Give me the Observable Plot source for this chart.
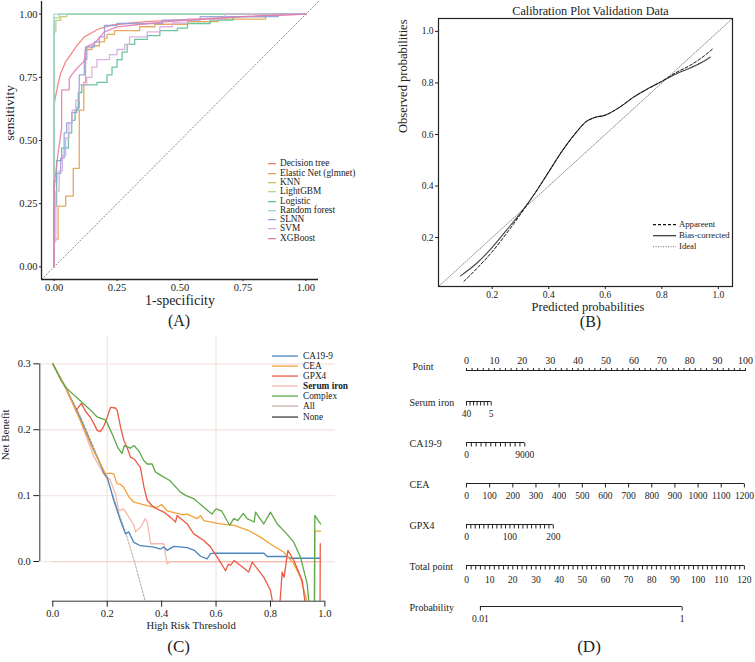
<!DOCTYPE html>
<html><head><meta charset="utf-8">
<script src="https://cdn.jsdelivr.net/npm/d3@7"></script>
<script src="https://cdn.jsdelivr.net/npm/@observablehq/plot@0.6"></script>
<style>
body{margin:0;background:#fff;}
#root{position:relative;width:755px;height:662px;overflow:hidden;background:#fff;}
#root svg, #root svg text{font-family:"Liberation Serif","Times New Roman",serif !important;}
.legend{position:absolute;font-family:"Liberation Serif","Times New Roman",serif;color:#222;}
.legend .item{display:flex;align-items:center;white-space:nowrap;}
</style></head>
<body><div id="root"></div>
<script>
// ================= DATA =================
// ---- (A) ROC curves: [1-specificity, sensitivity] ----
const rocModels = ["Decision tree","Elastic Net (glmnet)","KNN","LightGBM","Logistic","Random forest","SLNN","SVM","XGBoost"];
const rocTicks = [0, 0.25, 0.5, 0.75, 1];
const rocDecisionTree = [[0,0],[0,0.64],[0.005,0.67],[0.015,0.72],[0.026,0.765],[0.045,0.81],[0.066,0.84],[0.09,0.875],[0.12,0.91],[0.18,0.943],[0.23,0.957],[0.36,0.97],[0.56,0.98],[0.75,0.99],[1,1]];
const rocElasticNet = [[0,0],[0,0.11],[0.016,0.11],[0.016,0.24],[0.046,0.24],[0.046,0.28],[0.076,0.28],[0.076,0.39],[0.1,0.39],[0.1,0.62],[0.118,0.62],[0.118,0.73],[0.125,0.73],[0.125,0.86],[0.15,0.86],[0.15,0.875],[0.18,0.875],[0.18,0.89],[0.2,0.89],[0.2,0.905],[0.21,0.905],[0.21,0.92],[0.24,0.92],[0.24,0.935],[0.34,0.935],[0.34,0.95],[0.4,0.95],[0.4,0.96],[0.53,0.96],[0.53,0.97],[0.65,0.97],[0.65,0.98],[0.84,0.98],[0.84,1],[1,1]];
const rocKNN = [[0,0],[0,0.93],[0.007,0.93],[0.007,0.975],[0.026,0.975],[0.026,0.99],[0.05,0.99],[0.05,1],[1,1]];
const rocLightGBM = [[0,0],[0,0.985],[0.02,0.985],[0.02,1],[1,1]];
const rocLogistic = [[0,0],[0,0.24],[0.01,0.24],[0.01,0.42],[0.03,0.42],[0.03,0.47],[0.057,0.47],[0.057,0.53],[0.07,0.53],[0.07,0.58],[0.083,0.58],[0.083,0.62],[0.096,0.62],[0.096,0.69],[0.11,0.69],[0.11,0.72],[0.17,0.72],[0.17,0.73],[0.21,0.73],[0.21,0.76],[0.23,0.76],[0.23,0.79],[0.25,0.79],[0.25,0.82],[0.27,0.82],[0.27,0.85],[0.29,0.85],[0.29,0.88],[0.32,0.88],[0.32,0.9],[0.37,0.9],[0.37,0.915],[0.42,0.915],[0.42,0.935],[0.49,0.935],[0.49,0.945],[0.53,0.945],[0.53,0.963],[0.62,0.963],[0.62,0.976],[0.71,0.976],[0.71,0.99],[0.84,0.99],[0.84,1],[1,1]];
const rocRandomForest = [[0,0],[0,1],[1,1]];
const rocSLNN = [[0,0],[0,0.34],[0.01,0.34],[0.01,0.37],[0.026,0.37],[0.026,0.43],[0.04,0.43],[0.04,0.53],[0.05,0.53],[0.05,0.57],[0.07,0.57],[0.07,0.61],[0.09,0.61],[0.09,0.63],[0.1,0.63],[0.1,0.76],[0.12,0.76],[0.12,0.82],[0.13,0.82],[0.13,0.87],[0.16,0.87],[0.16,0.89],[0.18,0.89],[0.18,0.91],[0.2,0.91],[0.2,0.955],[0.25,0.955],[0.25,0.963],[0.43,0.963],[0.43,0.976],[0.58,0.976],[0.58,0.99],[0.89,0.99],[0.89,1],[1,1]];
const rocSVM = [[0,0],[0,0.1],[0.007,0.1],[0.007,0.3],[0.02,0.3],[0.02,0.38],[0.033,0.38],[0.033,0.44],[0.046,0.44],[0.046,0.51],[0.059,0.51],[0.059,0.57],[0.072,0.57],[0.072,0.62],[0.086,0.62],[0.086,0.66],[0.1,0.66],[0.1,0.72],[0.13,0.72],[0.13,0.75],[0.15,0.75],[0.15,0.79],[0.17,0.79],[0.17,0.82],[0.22,0.82],[0.22,0.84],[0.25,0.84],[0.25,0.86],[0.28,0.86],[0.28,0.88],[0.3,0.88],[0.3,0.91],[0.37,0.91],[0.37,0.93],[0.42,0.93],[0.42,0.95],[0.47,0.95],[0.47,0.965],[0.53,0.965],[0.53,0.98],[0.68,0.98],[0.68,1],[1,1]];
const rocXGBoost = [[0,0],[0,0.3],[0.005,0.36],[0.012,0.42],[0.02,0.48],[0.03,0.55],[0.03,0.7],[0.06,0.7],[0.06,0.745],[0.07,0.76],[0.09,0.785],[0.12,0.815],[0.125,0.87],[0.16,0.885],[0.2,0.93],[0.25,0.95],[0.35,0.96],[0.45,0.97],[0.6,0.98],[0.75,0.99],[1,1]];
const rocCurves = [rocDecisionTree, rocElasticNet, rocKNN, rocLightGBM, rocLogistic, rocRandomForest, rocSLNN, rocSVM, rocXGBoost];

// ---- (B) calibration: [predicted, observed] ----
const calTicks = [0.2, 0.4, 0.6, 0.8, 1.0];
const calApparent = [[0.1,0.03],[0.15,0.085],[0.2,0.145],[0.25,0.215],[0.3,0.29],[0.35,0.37],[0.4,0.455],[0.45,0.54],[0.5,0.612],[0.53,0.648],[0.56,0.665],[0.6,0.675],[0.65,0.705],[0.7,0.745],[0.75,0.777],[0.8,0.806],[0.85,0.84],[0.9,0.868],[0.95,0.905],[0.983,0.935]];
const calBiasCorrected = [[0.088,0.051],[0.15,0.105],[0.2,0.162],[0.25,0.228],[0.3,0.295],[0.35,0.37],[0.4,0.455],[0.45,0.54],[0.5,0.612],[0.53,0.648],[0.56,0.665],[0.6,0.675],[0.65,0.705],[0.7,0.745],[0.75,0.777],[0.8,0.806],[0.85,0.835],[0.9,0.858],[0.95,0.885],[0.971,0.9]];
const calIdeal = [0, 1.1];
const calLegend = ["Appareent", "Bias-corrected", "Ideal"];

// ---- (C) decision curves: [threshold, net benefit] ----
const dcaNames = ["CA19-9","CEA","GPX4","Serum iron","Complex","All","None"];
const dcaXTicks = [0, 0.2, 0.4, 0.6, 0.8, 1.0];
const dcaYTicks = [0, 0.1, 0.2, 0.3];
const dcaGridX = [0.2, 0.6];
const dcaCA199 = [[0,0.3],[0.05,0.262],[0.1,0.218],[0.15,0.17],[0.19,0.133],[0.2,0.128],[0.224,0.093],[0.249,0.062],[0.267,0.042],[0.279,0.045],[0.298,0.029],[0.322,0.024],[0.371,0.022],[0.396,0.019],[0.408,0.022],[0.42,0.017],[0.445,0.023],[0.494,0.021],[0.52,0.017],[0.543,0.008],[0.567,0.004],[0.58,0.012],[0.592,0.0126],[0.776,0.0126],[0.788,0.0076],[0.86,0.0076],[0.874,0.005],[0.984,0.005]];
const dcaCEA = [[0,0.3],[0.05,0.262],[0.1,0.215],[0.15,0.168],[0.194,0.133],[0.212,0.134],[0.224,0.133],[0.236,0.118],[0.249,0.117],[0.26,0.113],[0.28,0.098],[0.298,0.09],[0.347,0.085],[0.383,0.082],[0.4,0.0865],[0.42,0.077],[0.457,0.073],[0.476,0.071],[0.494,0.072],[0.53,0.065],[0.543,0.07],[0.555,0.062],[0.616,0.057],[0.666,0.055],[0.72,0.047],[0.763,0.037],[0.81,0.024],[0.85,0.014],[0.886,-0.0035],[0.91,-0.024],[0.93,-0.054],[0.94,-0.09],[0.962,-0.09],[0.963,0.046],[0.984,0.046]];
const dcaGPX4 = [[0.087,0.23],[0.105,0.24],[0.12,0.228],[0.138,0.219],[0.15,0.21],[0.163,0.199],[0.175,0.197],[0.187,0.205],[0.2,0.219],[0.212,0.234],[0.23,0.233],[0.237,0.229],[0.249,0.204],[0.261,0.184],[0.273,0.173],[0.286,0.158],[0.298,0.156],[0.322,0.143],[0.335,0.113],[0.347,0.093],[0.371,0.082],[0.408,0.075],[0.433,0.067],[0.451,0.06],[0.457,0.07],[0.494,0.057],[0.518,0.042],[0.555,0.032],[0.58,0.022],[0.604,0.0066],[0.616,-0.001],[0.635,-0.014],[0.645,-0.004],[0.653,-0.006],[0.666,0.0015],[0.69,-0.006],[0.72,-0.016],[0.733,-0.001],[0.776,-0.024],[0.8,-0.044],[0.82,-0.09],[0.83,-0.09],[0.843,-0.016],[0.85,-0.024],[0.864,0.017],[0.886,0.0015],[0.917,-0.029],[0.935,-0.09],[0.982,-0.09],[0.983,0.027]];
const dcaSerumIron = [[0,0.3],[0.05,0.26],[0.1,0.215],[0.15,0.16],[0.17,0.145],[0.194,0.128],[0.21,0.125],[0.23,0.103],[0.243,0.077],[0.26,0.08],[0.273,0.072],[0.298,0.055],[0.304,0.045],[0.322,0.052],[0.34,0.065],[0.347,0.06],[0.36,0.027],[0.383,0.027],[0.408,0.027],[0.42,-0.0035],[0.433,0],[0.984,0]];
const dcaComplex = [[0,0.3],[0.03,0.275],[0.053,0.262],[0.09,0.248],[0.133,0.232],[0.164,0.219],[0.194,0.215],[0.2,0.21],[0.22,0.192],[0.24,0.172],[0.254,0.164],[0.263,0.176],[0.285,0.172],[0.298,0.176],[0.316,0.168],[0.335,0.153],[0.347,0.148],[0.365,0.148],[0.377,0.136],[0.4,0.13],[0.43,0.123],[0.47,0.105],[0.49,0.1],[0.52,0.095],[0.54,0.0875],[0.57,0.077],[0.585,0.072],[0.6,0.08],[0.62,0.077],[0.65,0.055],[0.665,0.065],[0.68,0.062],[0.7,0.073],[0.714,0.065],[0.74,0.06],[0.745,0.075],[0.775,0.057],[0.8,0.075],[0.825,0.057],[0.86,0.042],[0.886,0.029],[0.91,0.007],[0.935,-0.034],[0.947,-0.09],[0.961,-0.09],[0.963,0.07],[0.984,0.057]];
const dcaAll = [[0,0.3],[0.1,0.222],[0.2,0.125],[0.27,0.041],[0.3,0],[0.335,-0.053],[0.345,-0.07]];
const dcaNone = [[0,0],[0.984,0]];
const dcaSeries = [dcaCA199, dcaCEA, dcaGPX4, dcaSerumIron, dcaComplex, dcaAll, dcaNone];

// ---- (D) nomogram ----
const pointLabels = [0,10,20,30,40,50,60,70,80,90,100];
const pointMinorTicks = d3.range(0, 101, 2);
const nomoNames = ["Serum iron","CA19-9","CEA","GPX4","Total point","Probability"];
const nomoFrom = [40, 0, 0, 0, 0, 0.01];
const nomoTo = [5, 9000, 1200, 200, 120, 1];
const nomoPointsFrom = [0, 0, 0, 0, 0, 4.98];
const nomoPointsTo = [8.85, 20.9, 99.6, 31.1, 99.6, 77.3];
const nomoTicks = [
  [40,35,30,25,20,15,10,5],
  d3.range(0, 9001, 750),
  [0,100,200,300,400,500,600,700,800,900,1000,1100,1200],
  d3.range(0, 201, 10),
  d3.range(0, 121, 2),
  [0.01, 1]
];
const nomoLabels = [
  [40,5],
  [0,9000],
  [0,100,200,300,400,500,600,700,800,900,1000,1100,1200],
  [0,100,200],
  [0,10,20,30,40,50,60,70,80,90,100,110,120],
  [0.01,1]
];

// ================= STYLE =================
const SERIF = "Liberation Serif, Times New Roman, serif";
const rocColors = ["#F27F76","#E3A04E","#C3C46C","#A5D78F","#5DBF92","#95D4D7","#8EA2DB","#D8AADF","#E47DB4"];
const dcaColors = ["#4A84BC","#F2A23C","#EB5A45","#F4B9AA","#5EA848","#C9AEA6","#3d3d3d"];
const INK = "#222";
const root = document.getElementById("root");

function place(svg, left, top) {
  svg.style.position = "absolute";
  svg.style.left = left + "px";
  svg.style.top = top + "px";
  root.appendChild(svg);
}
function makeLegend({labels, colors, dashes, left, top, rowH, lineW, gap, fontSize, bold}) {
  const div = document.createElement("div");
  div.className = "legend";
  Object.assign(div.style, {left: left + "px", top: top + "px", fontSize: fontSize + "px"});
  labels.forEach((lab, i) => {
    const row = document.createElement("div");
    row.className = "item";
    row.style.height = rowH + "px";
    const dash = dashes && dashes[i] ? `stroke-dasharray="${dashes[i]}"` : "";
    row.innerHTML = `<svg width="${lineW}" height="${rowH}" style="flex:none"><line x1="0" x2="${lineW}" y1="${rowH/2}" y2="${rowH/2}" stroke="${colors[i]}" stroke-width="1.3" ${dash}/></svg><span style="margin-left:${gap}px;line-height:${rowH}px;${bold && bold.includes(lab) ? "font-weight:bold;" : ""}">${lab}</span>`;
    div.appendChild(row);
  });
  root.appendChild(div);
}

// ================= (A) ROC =================
const rocRows = rocModels.flatMap((m, i) => rocCurves[i].map(([fpr, tpr]) => ({model: m, fpr, tpr})));
const rocDomain = [-0.05, 1.05];
const plotA = Plot.plot({
  width: 370, height: 330, marginLeft: 41, marginRight: 52, marginTop: 1, marginBottom: 51,
  style: {fontFamily: SERIF, fontSize: "10.5px", color: INK, background: "transparent", overflow: "visible"},
  x: {domain: rocDomain, ticks: rocTicks, tickFormat: d3.format(".2f"), tickSize: 2, tickPadding: 2, label: null},
  y: {domain: rocDomain, ticks: rocTicks, tickFormat: d3.format(".2f"), tickSize: 2, tickPadding: 2, label: null},
  color: {domain: rocModels, range: rocColors},
  marks: [
    Plot.line(rocDomain, {x: d => d, y: d => d, stroke: "#8a8a8a", strokeWidth: 1, strokeDasharray: "1.2,2.2"}),
    Plot.line(rocRows, {x: "fpr", y: "tpr", z: "model", stroke: "model", strokeWidth: 1.3, strokeOpacity: 0.9}),
    Plot.ruleX([rocDomain[0]], {stroke: INK, strokeWidth: 1.3}),
    Plot.ruleY([rocDomain[0]], {stroke: INK, strokeWidth: 1.3}),
    Plot.text(["sensitivity"], {frameAnchor: "left", rotate: -90, dx: -32, fontSize: 13.5}),
    Plot.text(["1-specificity"], {frameAnchor: "bottom", dy: 25, fontSize: 14}),
    Plot.text(["(A)"], {frameAnchor: "bottom", dy: 46, dx: -1, fontSize: 16})
  ]
});
place(plotA, 0, 0);
makeLegend({labels: rocModels, colors: rocColors, left: 268, top: 159.4, rowH: 9.3, lineW: 8, gap: 4, fontSize: 9.3});

// ================= (B) Calibration =================
const calDomain = [0.01, 1.05];
const calRows = [
  ...calApparent.map(([p, o]) => ({kind: "Apparent", p, o})),
  ...calBiasCorrected.map(([p, o]) => ({kind: "Bias", p, o}))
];
const plotB = Plot.plot({
  width: 385, height: 330, marginLeft: 68, marginRight: 23, marginTop: 18, marginBottom: 44,
  style: {fontFamily: SERIF, fontSize: "9.5px", color: INK, background: "transparent", overflow: "visible"},
  x: {domain: calDomain, ticks: calTicks, tickFormat: d3.format(".1f"), tickSize: 3, tickPadding: 2, label: null},
  y: {domain: calDomain, ticks: calTicks, tickFormat: d3.format(".1f"), tickSize: 3, tickPadding: 2, label: null},
  marks: [
    Plot.line(calIdeal, {x: d => d, y: d => d, stroke: "#7a7a7a", strokeWidth: 0.9, strokeDasharray: "1,1.5", clip: true}),
    Plot.line(calRows.filter(d => d.kind === "Bias"), {x: "p", y: "o", stroke: "#444", strokeWidth: 1.1, curve: "monotone-x"}),
    Plot.line(calRows.filter(d => d.kind === "Apparent"), {x: "p", y: "o", stroke: "#111", strokeWidth: 1, strokeDasharray: "3,2", curve: "monotone-x"}),
    Plot.frame({stroke: INK, strokeWidth: 1.2}),
    Plot.text(["Calibration Plot Validation Data"], {frameAnchor: "top", dy: -12, dx: 5, fontSize: 12.2}),
    Plot.text(["Observed probabilities"], {frameAnchor: "left", rotate: -90, dx: -36, dy: -19.5, fontSize: 12.5}),
    Plot.text(["Predicted probabilities"], {frameAnchor: "bottom", dy: 24, dx: 2.5, fontSize: 12.5}),
    Plot.text(["(B)"], {frameAnchor: "bottom", dy: 40, dx: 5, fontSize: 16})
  ]
});
place(plotB, 370, 0);
makeLegend({labels: calLegend, colors: ["#111", "#444", "#888"], dashes: ["3,2", null, "1,1.5"], left: 653, top: 218.6, rowH: 11.35, lineW: 23, gap: 3, fontSize: 8.7});

// ================= (C) Decision curves =================
const dcaRows = dcaNames.flatMap((n, i) => dcaSeries[i].map(([t, nb]) => ({model: n, t, nb})));
const dcaXDomain = [-0.0478, 1.039];
const dcaYDomain = [-0.0602, 0.343];
const curveOrder = ["Serum iron", "CA19-9", "CEA", "GPX4", "Complex"];
const plotC = Plot.plot({
  width: 370, height: 332, marginLeft: 39.3, marginRight: 35, marginTop: 5, marginBottom: 61.3,
  style: {fontFamily: SERIF, fontSize: "10.5px", color: INK, background: "transparent", overflow: "visible"},
  x: {domain: dcaXDomain, ticks: dcaXTicks, tickFormat: d3.format(".1f"), tickSize: 6, tickPadding: 2, label: null},
  y: {domain: dcaYDomain, ticks: dcaYTicks, tickFormat: d3.format(".1f"), tickSize: 6, tickPadding: 3, label: null},
  color: {domain: dcaNames, range: dcaColors},
  marks: [
    Plot.ruleY(dcaYTicks, {stroke: "#F4E6E3", strokeWidth: 1.3}),
    Plot.ruleX(dcaGridX, {stroke: "#F4E6E3", strokeWidth: 1.3}),
    Plot.line(dcaRows.filter(d => d.model === "None"), {x: "t", y: "nb", stroke: "#F6D3CB", strokeWidth: 1.2, clip: true}),
    Plot.line(dcaRows.filter(d => d.model === "All"), {x: "t", y: "nb", stroke: "#B9A29B", strokeWidth: 1, strokeDasharray: "2,1.6", clip: true}),
    ...curveOrder.map(name => Plot.line(dcaRows.filter(d => d.model === name), {x: "t", y: "nb", stroke: "model", strokeWidth: 1.3, clip: true})),
    Plot.ruleY([dcaYDomain[0]], {x1: dcaXTicks[0], x2: dcaXTicks[dcaXTicks.length - 1], stroke: "#333", strokeWidth: 1}),
    Plot.ruleX([dcaXDomain[0]], {y1: dcaYTicks[0], y2: dcaYTicks[dcaYTicks.length - 1], stroke: "#333", strokeWidth: 1}),
    Plot.text(["Net Benefit"], {frameAnchor: "left", rotate: -90, dx: -34, dy: -8, fontSize: 11}),
    Plot.text(["High Risk Threshold"], {frameAnchor: "bottom", dy: 27.6, dx: 3.5, fontSize: 10.7}),
    Plot.text(["(C)"], {frameAnchor: "bottom", dy: 51, dx: -9, fontSize: 17})
  ]
});
place(plotC, 0, 330);
makeLegend({labels: dcaNames, colors: dcaColors, left: 272, top: 351, rowH: 10.1, lineW: 26, gap: 5, fontSize: 9.3, bold: ["Serum iron"]});

// ================= (D) Nomogram =================
const nomoRows = nomoNames.map((name, i) => ({name, p0: nomoPointsFrom[i], p1: nomoPointsTo[i]}));
const toPoints = (i, v) => nomoPointsFrom[i] + (v - nomoFrom[i]) / (nomoTo[i] - nomoFrom[i]) * (nomoPointsTo[i] - nomoPointsFrom[i]);
const nomoTickRows = nomoNames.flatMap((name, i) => nomoTicks[i].map(v => ({name, p: toPoints(i, v)})));
const nomoLabelRows = nomoNames.flatMap((name, i) => nomoLabels[i].map(v => ({name, p: toPoints(i, v), label: String(v)})));
const tickDown = {draw(ctx) { ctx.moveTo(0, 0); ctx.lineTo(0, 4); }};
const plotD = Plot.plot({
  width: 385, height: 322, marginLeft: 96, marginRight: 10, marginTop: 30, marginBottom: 40,
  style: {fontFamily: SERIF, fontSize: "10px", color: INK, background: "transparent", overflow: "visible"},
  x: {domain: [0, 100], axis: "top", ticks: pointMinorTicks, tickFormat: d => pointLabels.includes(d) ? String(d) : "", tickSize: 3, tickPadding: 4, label: null},
  y: {type: "point", domain: nomoNames, range: [59.3, 267.3], padding: 0, axis: null},
  marks: [
    Plot.frame({anchor: "top", stroke: INK, strokeWidth: 1}),
    Plot.ruleY(nomoRows, {y: "name", x1: "p0", x2: "p1", stroke: INK, strokeWidth: 1}),
    Plot.dot(nomoTickRows, {x: "p", y: "name", symbol: tickDown, fill: "none", stroke: INK, strokeWidth: 1}),
    Plot.text(nomoLabelRows.filter(d => d.name !== "Total point"), {x: "p", y: "name", text: "label", dy: 12, fontSize: 9.5}),
    Plot.text(nomoLabelRows.filter(d => d.name === "Total point"), {x: "p", y: "name", text: "label", dy: 14.5, fontSize: 9.5}),
    Plot.text(nomoNames, {y: d => d, text: d => d, frameAnchor: "left", textAnchor: "start", dx: -57, dy: 1.5, fontSize: 10, fontWeight: d => d === "Serum iron" ? "bold" : "normal"}),
    Plot.text(["Point"], {frameAnchor: "top-left", textAnchor: "start", dx: -54, dy: -8, fontSize: 10}),
    Plot.text(["(D)"], {frameAnchor: "bottom", dy: 29.7, dx: -17, fontSize: 17})
  ]
});
place(plotD, 370, 340);
</script></body></html>
